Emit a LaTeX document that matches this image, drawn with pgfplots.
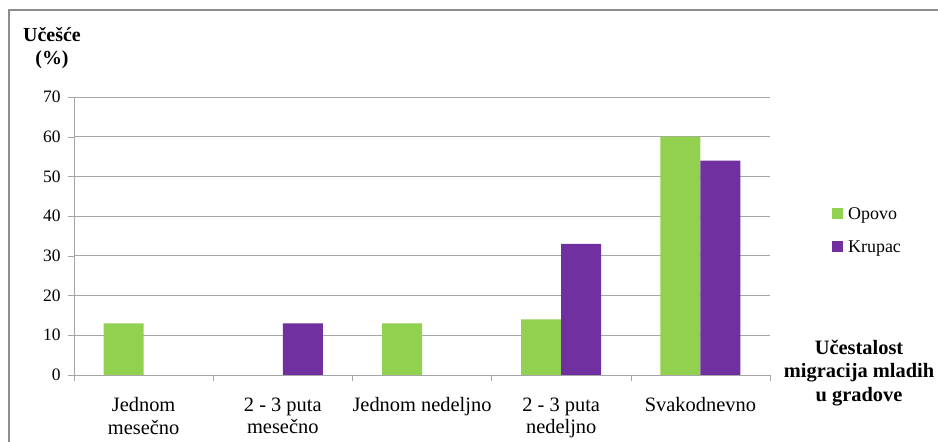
\documentclass[border=0pt]{standalone}
\usepackage{pgfplots}
\pgfplotsset{compat=1.18}
\usepackage{fontspec}
\setmainfont{Liberation Serif}
\definecolor{opovo}{HTML}{92D050}
\definecolor{krupac}{HTML}{7030A0}
\definecolor{frame}{HTML}{8C8C8C}
\definecolor{gridc}{HTML}{A6A6A6}
\begin{document}
\begin{tikzpicture}
\useasboundingbox (0,0) rectangle (938bp,442bp);
% chart frame (only top and left visible)
\draw[frame, line width=2bp] (9bp,0) -- (9bp,432bp) -- (938bp,432bp);
\begin{axis}[
  at={(74bp,67bp)}, anchor=south west,
  scale only axis, width=696bp, height=278bp,
  ybar=0pt, bar width=40bp,
  xmin=-0.5, xmax=4.5, ymin=0, ymax=70,
  ytick={0,10,...,70},
  xtick={0,1,2,3,4},
  xticklabels={{Jednom\\mesečno},{2 - 3 puta\\mesečno},{Jednom nedeljno},{2 - 3 puta\\nedeljno},{Svakodnevno}},
  minor xtick={-0.5,0.5,...,4.5},
  major x tick style={draw=none},
  tick align=outside, tick pos=left,
  major tick length=6bp, minor tick length=6bp,
  every tick/.style={gridc},
  ymajorgrids, grid style={gridc, line width=0.8bp},
  axis x line*=bottom, axis y line*=left,
  axis line style={gridc, line width=0.8bp},
  x tick label style={font=\fontsize{20.5}{23}\selectfont, align=center, anchor=north, yshift=-13bp},
  y tick label style={font=\fontsize{17.5}{20}\selectfont, xshift=-4bp},
  /pgf/number format/assume math mode=true,
  legend style={at={(1.089,0.52)}, anchor=west, draw=none, fill=none,
    font=\fontsize{18}{20}\selectfont, row sep=16bp, inner sep=0pt,
    nodes={inner xsep=5bp}},
  legend cell align=left,
  legend image code/.code={\fill[#1] (0bp,-5bp) rectangle (11bp,6bp);},
]
\addplot[fill=opovo, draw=none] coordinates {(0,13) (1,0) (2,13) (3,14) (4,60)};
\addplot[fill=krupac, draw=none] coordinates {(0,0) (1,13) (2,0) (3,33) (4,54)};
\legend{Opovo, Krupac}
\end{axis}
\node[font=\fontsize{20}{23}\selectfont\bfseries, align=center] at (52bp,394bp) {Učešće\\(\%)};
\node[font=\fontsize{20.5}{23.5}\selectfont\bfseries, align=center] at (859bp,69bp) {Učestalost\\migracija mladih\\u gradove};
\end{tikzpicture}
\end{document}
